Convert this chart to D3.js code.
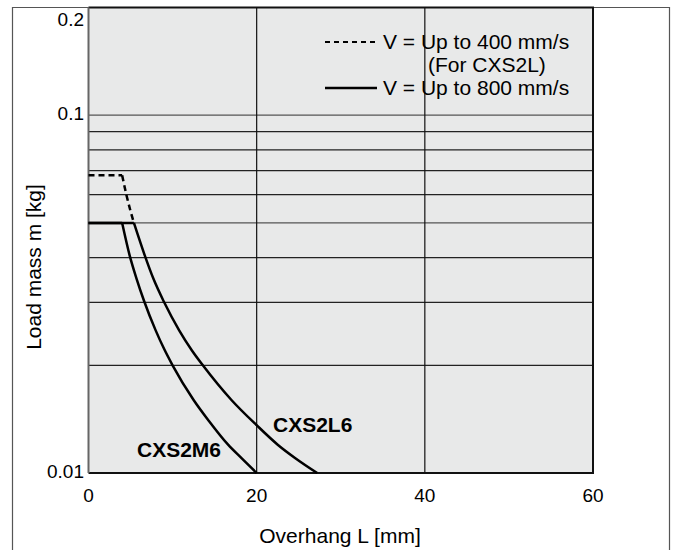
<!DOCTYPE html>
<html>
<head>
<meta charset="utf-8">
<script src="https://cdn.jsdelivr.net/npm/d3@7"></script>
<style>
  body { margin: 0; background: #fff; }
  svg { font-family: "Liberation Sans", Arial, sans-serif; }
</style>
</head>
<body>
<svg id="chart"></svg>
<script>
const width = 676;
const height = 550;

// overhang L [mm] vs load mass m [kg]
const cxs2m6 = [[0, 0.05], [4, 0.05], [4.9, 0.0405], [5.7, 0.035], [6.6, 0.0303], [8, 0.025], [9, 0.0222], [10, 0.02], [12.5, 0.016], [14.3, 0.014], [16.6, 0.012], [18.2, 0.011], [20, 0.01]];
const cxs2l6 = [[0, 0.05], [5.4, 0.05], [6.7, 0.0405], [7.7, 0.035], [9, 0.03], [10.8, 0.025], [12.3, 0.022], [13.6, 0.02], [17, 0.016], [20, 0.0136], [22.5, 0.012], [24.6, 0.011], [27.2, 0.01]];
const cxs2l400 = [[0, 0.068], [4, 0.068], [4.5, 0.06], [5.4, 0.05]];

const xTicks = [0, 20, 40, 60];
const yTicks = [0.01, 0.1, 0.2];
const yGrid = [0.02, 0.03, 0.04, 0.05, 0.06, 0.07, 0.08, 0.09, 0.1];

const svg = d3.select('#chart')
    .attr('width', width)
    .attr('height', height);

const x = d3.scaleLinear().domain([0, 60]).range([88.5, 593]);
const y = d3.scaleLog().domain([0.01, 0.2]).range([473, 7.5]);

// outer frame
svg.append('path')
    .attr('d', `M12.5,${height} V7.5 H669.5 V${height}`)
    .attr('fill', 'none')
    .attr('stroke', '#555')
    .attr('stroke-width', 1.2);

// plot background
svg.append('rect')
    .attr('x', x(0)).attr('y', y(0.2))
    .attr('width', x(60) - x(0)).attr('height', y(0.01) - y(0.2))
    .attr('fill', '#e8e9e9');

// grid
svg.append('g').selectAll('line').data(yGrid).join('line')
    .attr('x1', x(0)).attr('x2', x(60))
    .attr('y1', d => y(d)).attr('y2', d => y(d))
    .attr('stroke', d => d === 0.1 || d === 0.05 ? '#555' : '#222')
    .attr('stroke-width', 1.2);

svg.append('g').selectAll('line').data([20, 40]).join('line')
    .attr('x1', d => x(d)).attr('x2', d => x(d))
    .attr('y1', y(0.2)).attr('y2', y(0.01))
    .attr('stroke', '#111')
    .attr('stroke-width', 1.2);

// plot border
svg.append('path')
    .attr('d', `M${x(0)},${y(0.2)} H${x(60)} V${y(0.01)} H${x(0)}`)
    .attr('fill', 'none')
    .attr('stroke', '#111')
    .attr('stroke-width', 2);
svg.append('line')
    .attr('x1', x(0)).attr('x2', x(0))
    .attr('y1', y(0.2)).attr('y2', y(0.01))
    .attr('stroke', '#666')
    .attr('stroke-width', 2);

// curves: flat part drawn straight, the drop drawn smooth
const straight = d3.line()
    .x(d => x(d[0]))
    .y(d => y(d[1]));
const smooth = d3.line()
    .x(d => x(d[0]))
    .y(d => y(d[1]))
    .curve(d3.curveMonotoneX);

function drawSeries(s, dash) {
    const g = svg.append('g')
        .attr('fill', 'none')
        .attr('stroke', '#000')
        .attr('stroke-width', 2.5)
        .attr('stroke-dasharray', dash);
    g.append('path').attr('d', straight(s.slice(0, 2)));
    g.append('path').attr('d', smooth(s.slice(1)));
}

drawSeries(cxs2m6, null);
drawSeries(cxs2l6, null);
drawSeries(cxs2l400, '6,4');

// tick labels
svg.append('g').selectAll('text').data(xTicks).join('text')
    .attr('x', d => x(d))
    .attr('y', 502)
    .attr('text-anchor', 'middle')
    .attr('font-size', 19)
    .text(d => d);

svg.append('g').selectAll('text').data(yTicks).join('text')
    .attr('x', 84)
    .attr('y', d => d === 0.2 ? 26 : y(d) + 5)
    .attr('text-anchor', 'end')
    .attr('font-size', 19)
    .text(d => d);

// axis titles
svg.append('text')
    .attr('x', 340).attr('y', 543)
    .attr('text-anchor', 'middle')
    .attr('font-size', 21)
    .text('Overhang L [mm]');

svg.append('text')
    .attr('transform', 'translate(41, 267) rotate(-90)')
    .attr('text-anchor', 'middle')
    .attr('font-size', 21)
    .text('Load mass m [kg]');

// series labels
svg.append('text')
    .attr('x', 273).attr('y', 432)
    .attr('font-size', 21).attr('font-weight', 'bold')
    .text('CXS2L6');
svg.append('text')
    .attr('x', 137).attr('y', 457)
    .attr('font-size', 21).attr('font-weight', 'bold')
    .text('CXS2M6');

// legend
const legend = svg.append('g');
legend.append('line')
    .attr('x1', 325).attr('x2', 377).attr('y1', 42).attr('y2', 42)
    .attr('stroke', '#000').attr('stroke-width', 2)
    .attr('stroke-dasharray', '5,4');
legend.append('line')
    .attr('x1', 325).attr('x2', 377).attr('y1', 88).attr('y2', 88)
    .attr('stroke', '#000').attr('stroke-width', 2.5);
legend.append('text')
    .attr('x', 383).attr('y', 49).attr('font-size', 21)
    .text('V = Up to 400 mm/s');
legend.append('text')
    .attr('x', 428).attr('y', 72).attr('font-size', 21)
    .text('(For CXS2L)');
legend.append('text')
    .attr('x', 383).attr('y', 95).attr('font-size', 21)
    .text('V = Up to 800 mm/s');
</script>
</body>
</html>
